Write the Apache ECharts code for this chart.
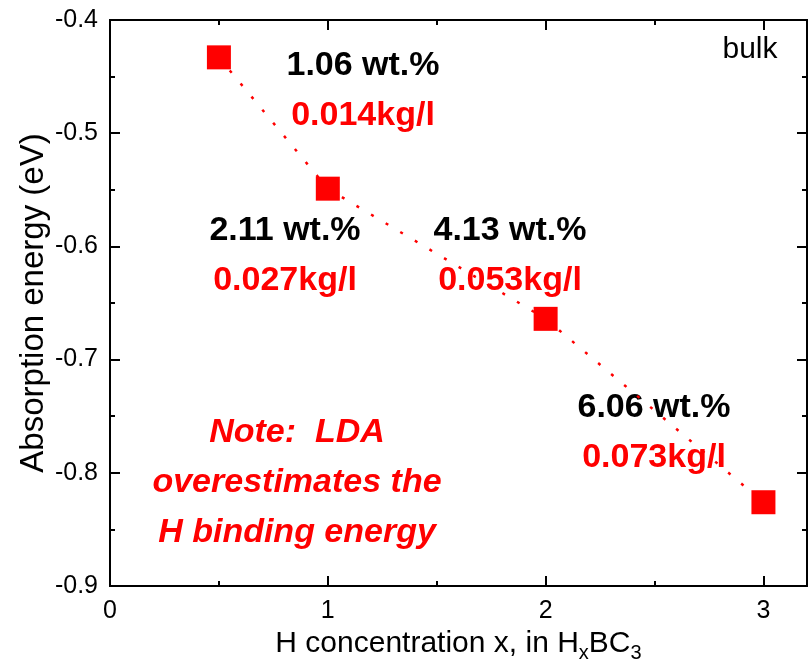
<!DOCTYPE html>
<html>
<head>
<meta charset="utf-8">
<script src="https://cdn.jsdelivr.net/npm/echarts@6/dist/echarts.min.js"></script>
<style>
  html, body { margin: 0; padding: 0; background: #fff; }
  #chart { width: 812px; height: 667px; }
</style>
</head>
<body>
<div id="chart"></div>
<script>
// H concentration x
const xValues = [0.5, 1, 2, 3]
// absorption energy (eV)
const energy = [-0.433, -0.549, -0.664, -0.826]
// labels next to the points
const wtPercent = ['1.06 wt.%', '2.11 wt.%', '4.13 wt.%', '6.06 wt.%']
const density = ['0.014kg/l', '0.027kg/l', '0.053kg/l', '0.073kg/l']
// x ticks
const xMajorTicks = [0, 1, 2, 3]
const xMinorTicks = [0.5, 1.5, 2.5]

const FONT = '"Liberation Sans", Arial, sans-serif'
const RED = '#ff0000'

// label centres (pixels), same order as the points
const labelPos = [[363, 66], [285, 231], [510, 231], [654, 408]]

const chart = echarts.init(document.getElementById('chart'))

const axisLine = { show: true, onZero: false, lineStyle: { color: '#000', width: 2 } }

// one x axis per tick set, bottom and top
function xAxis(position, ticks, len, withLabels) {
    return {
        type: 'value', min: 0, max: 3.2, position: position,
        axisLine: axisLine,
        splitLine: { show: false },
        axisTick: { show: true, inside: true, length: len, customValues: ticks,
            lineStyle: { color: '#000', width: 2 } },
        axisLabel: withLabels
            ? { show: true, customValues: ticks, fontFamily: FONT, fontSize: 25, color: '#000', margin: 13 }
            : { show: false }
    }
}

const xBottom = xAxis('bottom', xMajorTicks, 10, true)
xBottom.name = '{a|H concentration x, in H}{s|x}{a|BC}{s|3}'
xBottom.nameLocation = 'middle'
xBottom.nameGap = 34
xBottom.nameTextStyle = {
    fontFamily: FONT, color: '#000',
    rich: {
        a: { fontFamily: FONT, fontSize: 30, color: '#000', lineHeight: 40 },
        s: { fontFamily: FONT, fontSize: 20, color: '#000', lineHeight: 40, verticalAlign: 'bottom', padding: [13, 0, 0, 0] }
    }
}

function yAxis(position, withLabels) {
    return {
        type: 'value', min: -0.9, max: -0.4, interval: 0.1, position: position,
        axisLine: axisLine,
        splitLine: { show: false },
        axisTick: { show: true, inside: true, length: 10, lineStyle: { color: '#000', width: 2 } },
        minorTick: { show: true, splitNumber: 2, length: 5, lineStyle: { color: '#000', width: 2 } },
        axisLabel: withLabels
            ? { show: true, fontFamily: FONT, fontSize: 25, color: '#000', margin: 12,
                formatter: v => v.toFixed(1) }
            : { show: false }
    }
}

const yLeft = yAxis('left', true)
yLeft.name = 'Absorption energy (eV)'
yLeft.nameLocation = 'middle'
yLeft.nameGap = 60
yLeft.nameMoveOverlap = false
yLeft.nameTextStyle = { fontFamily: FONT, fontSize: 33, color: '#000' }

// annotation texts
const graphics = []
labelPos.forEach((p, i) => {
    graphics.push({ type: 'text', x: p[0], y: p[1], style: {
        text: wtPercent[i], fill: '#000', font: 'bold 34px ' + FONT,
        textAlign: 'center', textVerticalAlign: 'middle' } })
    graphics.push({ type: 'text', x: p[0], y: p[1] + 50, style: {
        text: density[i], fill: RED, font: 'bold 34px ' + FONT,
        textAlign: 'center', textVerticalAlign: 'middle' } })
})
graphics.push({ type: 'text', x: 750, y: 50, style: {
    text: 'bulk', fill: '#000', font: '30px ' + FONT,
    textAlign: 'center', textVerticalAlign: 'middle' } })
graphics.push({ type: 'text', x: 297, y: 483, style: {
    text: 'Note:  LDA\noverestimates the\nH binding energy', fill: RED,
    font: 'italic bold 34px ' + FONT, lineHeight: 50,
    textAlign: 'center', textVerticalAlign: 'middle' } })

const option = {
    animation: false,
    backgroundColor: '#fff',
    grid: { left: 110, right: 5, top: 20, bottom: 81, containLabel: false, outerBoundsMode: 'none' },
    xAxis: [
        xBottom,
        xAxis('bottom', xMinorTicks, 5, false),
        xAxis('top', xMajorTicks, 10, false),
        xAxis('top', xMinorTicks, 5, false)
    ],
    yAxis: [yLeft, yAxis('right', false)],
    series: [{
        type: 'line',
        xAxisIndex: 0, yAxisIndex: 0,
        data: xValues.map((x, i) => [x, energy[i]]),
        symbol: 'rect',
        symbolSize: 24,
        itemStyle: { color: RED },
        lineStyle: { color: RED, width: 2.5, type: [3, 14] }
    }],
    graphic: graphics
}

chart.setOption(option)
</script>
</body>
</html>
